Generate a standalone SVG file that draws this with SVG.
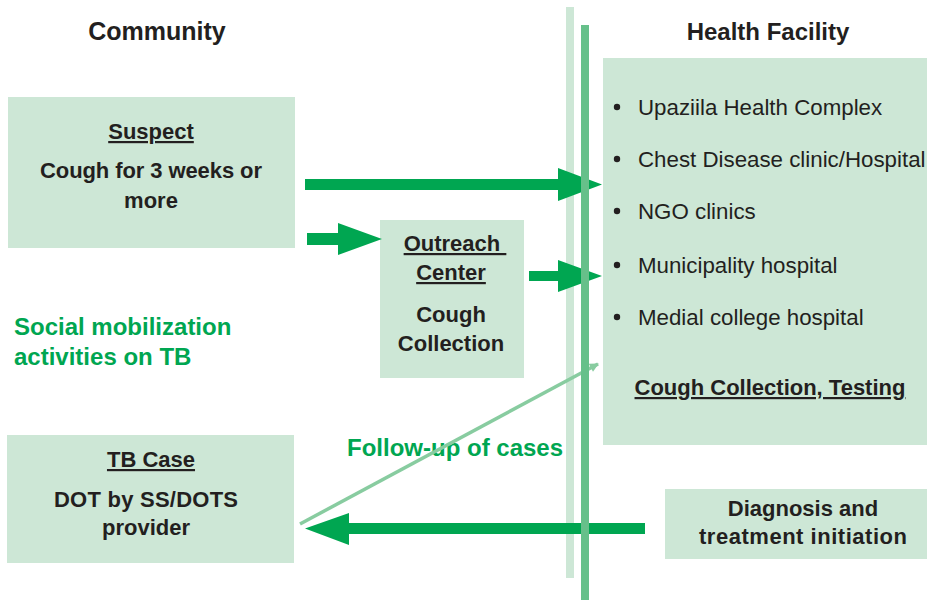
<svg xmlns="http://www.w3.org/2000/svg" width="927" height="600" viewBox="0 0 927 600">
<style>
.box{fill:#cde7d6}
.t{font-family:"Liberation Sans",Arial,sans-serif;fill:#231f20}
.b{font-weight:bold}
.hd{font-size:22px;font-weight:bold;text-decoration:underline}
.body{font-size:22px;font-weight:bold}
.li{font-size:22.3px}
.g{fill:#00a651;font-family:"Liberation Sans",Arial,sans-serif;font-weight:bold}
.arr{fill:#00a651}
</style>
<defs>
<marker id="thin" viewBox="0 0 10 10" refX="9" refY="5" markerWidth="10" markerHeight="9" markerUnits="userSpaceOnUse" orient="auto">
<path d="M0,0 L10,5 L0,10 z" fill="#88cca0"/>
</marker>
</defs>
<rect width="927" height="600" fill="#ffffff"/>
<rect id="light-bar" x="566" y="7" width="8" height="571" fill="#cde7d6"/>

<g id="community-title"><text class="t b" x="157" y="40" font-size="25" text-anchor="middle">Community</text></g>
<g id="health-title"><text class="t b" x="768" y="40" font-size="24" text-anchor="middle">Health Facility</text></g>

<g id="suspect">
<rect class="box" x="8" y="97" width="287" height="151"/>
<text class="t hd" x="151" y="139" text-anchor="middle">Suspect</text>
<text class="t body" x="151" y="178" text-anchor="middle" textLength="222">Cough for 3 weeks or</text>
<text class="t body" x="151" y="208" text-anchor="middle">more</text>
</g>

<g id="outreach">
<rect class="box" x="380" y="220" width="144" height="158"/>
<text class="t hd" x="455" y="251" text-anchor="middle" xml:space="preserve">Outreach </text>
<text class="t hd" x="451" y="280" text-anchor="middle">Center</text>
<text class="t body" x="451" y="322" text-anchor="middle">Cough</text>
<text class="t body" x="451" y="351" text-anchor="middle">Collection</text>
</g>

<g id="social"><text class="g" font-size="24" x="14" y="335">Social mobilization</text>
<text class="g" font-size="24" x="14" y="365">activities on TB</text></g>

<g id="tb-case">
<rect class="box" x="7" y="435" width="287" height="128"/>
<text class="t hd" x="151" y="467" text-anchor="middle">TB Case</text>
<text class="t body" x="146" y="507" text-anchor="middle" textLength="184">DOT by SS/DOTS</text>
<text class="t body" x="146" y="535" text-anchor="middle">provider</text>
</g>

<g id="health-facility">
<rect class="box" x="603" y="58" width="324" height="387"/>
<g class="t li">
<circle cx="617" cy="107" r="3.2" fill="#231f20"/><text x="638" y="115">Upaziila Health Complex</text>
<circle cx="617" cy="159" r="3.2" fill="#231f20"/><text x="638" y="167">Chest Disease clinic/Hospital</text>
<circle cx="617" cy="211" r="3.2" fill="#231f20"/><text x="638" y="219">NGO clinics</text>
<circle cx="617" cy="265" r="3.2" fill="#231f20"/><text x="638" y="273">Municipality hospital</text>
<circle cx="617" cy="317" r="3.2" fill="#231f20"/><text x="638" y="325">Medial college hospital</text>
</g>
<text class="t hd" x="770" y="395" text-anchor="middle" font-size="21">Cough Collection, Testing</text>
</g>

<g id="diagnosis">
<rect class="box" x="665" y="489" width="262" height="70"/>
<text class="t body" x="803" y="516" text-anchor="middle">Diagnosis and</text>
<text class="t body" x="803" y="544" text-anchor="middle" textLength="208">treatment initiation</text>
</g>

<g id="followup-label"><text class="g" font-size="24" x="347" y="456">Follow-up of cases</text></g>

<g id="connectors">
<polygon class="arr" points="305,179 558,179 558,168 602,184.5 558,201 558,190 305,190"/>
<polygon class="arr" points="307,233 338,233 338,223 382,239 338,255 338,245 307,245"/>
<polygon class="arr" points="529,271 558,271 558,260 602,276 558,292 558,281 529,281"/>
<polygon class="arr" points="645,523 349,523 349,513 305,528.5 349,545 349,534 645,534"/>
<line x1="300" y1="524" x2="598" y2="364" stroke="#88cca0" stroke-width="3.5" marker-end="url(#thin)"/>
</g>

<rect id="dark-bar" x="581" y="25" width="8" height="575" fill="#66c08a"/>
</svg>
